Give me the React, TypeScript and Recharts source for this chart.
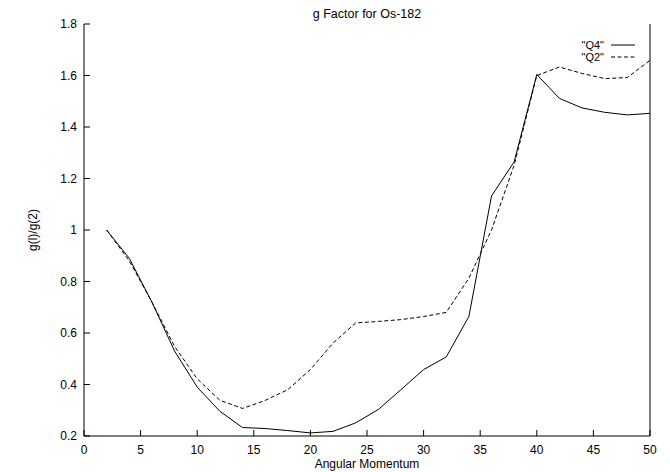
import React from 'react';
import { LineChart, Line, XAxis, YAxis, Legend } from 'recharts';

const xValues = [2, 4, 6, 8, 10, 12, 14, 16, 18, 20, 22, 24, 26, 28, 30, 32, 34, 36, 38, 40, 42, 44, 46, 48, 50];
const q4Values = [1.0, 0.89, 0.72, 0.53, 0.39, 0.296, 0.233, 0.229, 0.221, 0.212, 0.218, 0.251, 0.303, 0.38, 0.458, 0.507, 0.664, 1.132, 1.265, 1.604, 1.511, 1.474, 1.457, 1.447, 1.453];
const q2Values = [1.0, 0.88, 0.72, 0.548, 0.422, 0.339, 0.307, 0.338, 0.38, 0.458, 0.561, 0.639, 0.645, 0.652, 0.664, 0.68, 0.813, 1.0, 1.252, 1.6, 1.633, 1.608, 1.588, 1.592, 1.659];
const xTicks = [0, 5, 10, 15, 20, 25, 30, 35, 40, 45, 50];
const yTicks = [0.2, 0.4, 0.6, 0.8, 1.0, 1.2, 1.4, 1.6, 1.8];
const seriesNames = ['"Q4"', '"Q2"'];
const seriesDash = ['', '4 2.5'];
const title = 'g Factor for Os-182';
const xLabel = 'Angular Momentum';
const yLabel = 'g(l)/g(2)';

const data = xValues.map((x, i) => ({ x, q4: q4Values[i], q2: q2Values[i] }));

const FONT = '"Liberation Sans", Arial, Helvetica, sans-serif';
const fmt = (v: number) => String(Number(v.toFixed(1)));

const BottomTick = (p: any) => (
  <g>
    <line x1={p.x} y1={p.y} x2={p.x} y2={p.y - 6} stroke="#000" />
    <text x={p.x} y={p.y + 18} textAnchor="middle" fontFamily={FONT} fontSize={12} fill="#000">{fmt(p.payload.value)}</text>
  </g>
);
const TopTick = (p: any) => (
  <line x1={p.x} y1={p.y} x2={p.x} y2={p.y + 6} stroke="#000" />
);
const LeftTick = (p: any) => (
  <g>
    <line x1={p.x} y1={p.y} x2={p.x + 6} y2={p.y} stroke="#000" />
    <text x={p.x - 7} y={p.y + 4} textAnchor="end" fontFamily={FONT} fontSize={12} fill="#000">{fmt(p.payload.value)}</text>
  </g>
);
const RightTick = (p: any) => (
  <line x1={p.x} y1={p.y} x2={p.x - 6} y2={p.y} stroke="#000" />
);

const LegendContent = () => (
  <div style={{ fontFamily: FONT, fontSize: 11, color: '#000' }}>
    {seriesNames.map((n, i) => (
      <div key={n} style={{ display: 'flex', alignItems: 'center', justifyContent: 'flex-end', height: 12, lineHeight: '12px' }}>
        <span>{n}</span>
        <svg width={31} height={8} style={{ display: 'block' }}>
          <line x1={7} x2={31} y1={4} y2={4} stroke="#000" strokeWidth={1} strokeDasharray={seriesDash[i] || undefined} />
        </svg>
      </div>
    ))}
  </div>
);

export default function App() {
  return (
    <div style={{ position: 'absolute', left: 0, top: 0, width: 670, height: 472, background: '#fff' }}>
      <LineChart width={670} height={472} data={data} margin={{ top: 24, right: 0, bottom: 0, left: 0 }}>
        <XAxis
          dataKey="x" type="number" domain={[0, 50]} ticks={xTicks} interval={0}
          height={36} tickSize={0} tickMargin={0} tickLine={false}
          axisLine={{ stroke: '#000' }} tick={<BottomTick />}
          label={(lp: any) => (
            <text x={lp.viewBox.x + lp.viewBox.width / 2} y={lp.viewBox.y + 32} textAnchor="middle" fontFamily={FONT} fontSize={12} fill="#000">{xLabel}</text>
          )}
        />
        <XAxis
          xAxisId="top" orientation="top" dataKey="x" type="number" domain={[0, 50]} ticks={xTicks} interval={0}
          height={0} tickSize={0} tickMargin={0} tickLine={false}
          axisLine={{ stroke: '#000' }} tick={<TopTick />}
        />
        <YAxis
          type="number" domain={[0.2, 1.8]} ticks={yTicks} interval={0} width={84}
          tickSize={0} tickMargin={0} tickLine={false}
          axisLine={{ stroke: '#000' }} tick={<LeftTick />}
          label={(lp: any) => {
            const cx = lp.viewBox.x + 33;
            const cy = lp.viewBox.y + lp.viewBox.height / 2;
            return (
              <text x={cx} y={cy} transform={`rotate(-90 ${cx} ${cy})`} textAnchor="middle" dominantBaseline="central" fontFamily={FONT} fontSize={12} fill="#000">{yLabel}</text>
            );
          }}
        />
        <YAxis
          yAxisId="right" orientation="right" type="number" domain={[0.2, 1.8]} ticks={yTicks} interval={0} width={20}
          tickSize={0} tickMargin={0} tickLine={false}
          axisLine={{ stroke: '#000' }} tick={<RightTick />}
        />
        <Legend
          layout="vertical" align="center" verticalAlign="middle"
          content={<LegendContent />}
          wrapperStyle={{ position: 'absolute', top: 39, right: 35, left: 'auto', width: 'auto' }}
        />
        <Line name={seriesNames[0]} dataKey="q4" type="linear" stroke="#000" strokeWidth={1} dot={false} isAnimationActive={false} />
        <Line name={seriesNames[1]} dataKey="q2" type="linear" stroke="#000" strokeWidth={1} strokeDasharray={seriesDash[1]} dot={false} isAnimationActive={false} />
      </LineChart>
      <svg width={670} height={24} style={{ position: 'absolute', left: 0, top: 0, pointerEvents: 'none' }}>
        <text x={367} y={18} textAnchor="middle" fontFamily={FONT} fontSize={12.5} fill="#000">{title}</text>
      </svg>
    </div>
  );
}
